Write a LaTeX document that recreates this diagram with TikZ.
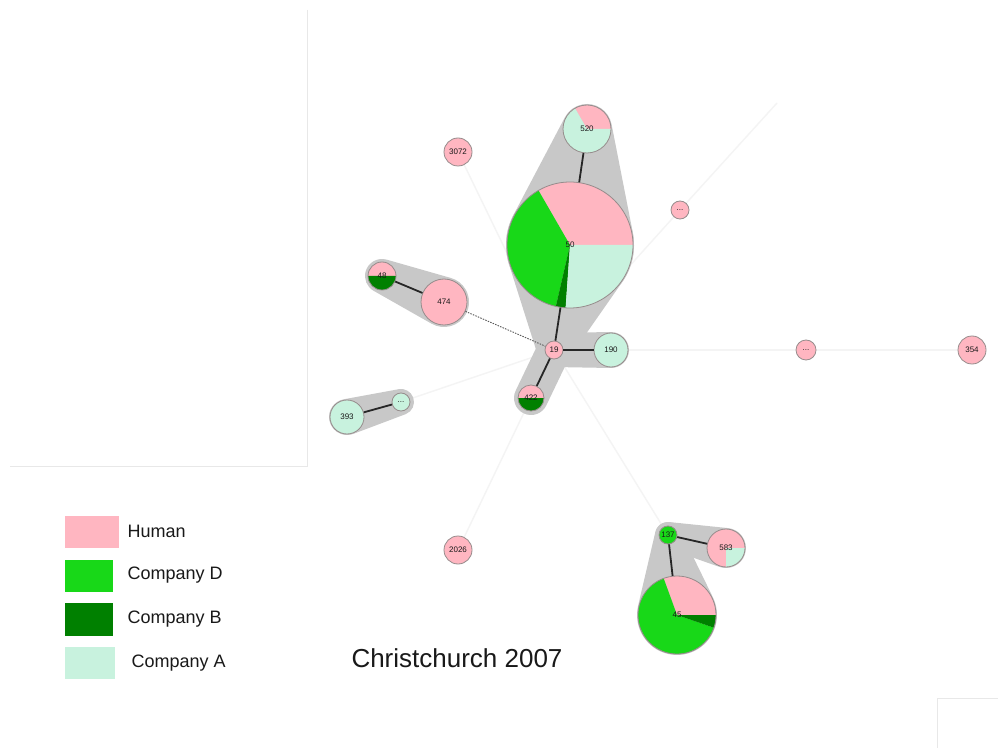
\documentclass[tikz,border=0pt]{standalone}
\usepackage{fontspec}
\setmainfont{Liberation Sans}
\usetikzlibrary{calc}
\pgfdeclarelayer{bg}
\pgfsetlayers{bg,main}
\definecolor{hpink}{RGB}{255,182,193}
\definecolor{cD}{RGB}{24,216,24}
\definecolor{cB}{RGB}{0,128,0}
\definecolor{cA}{RGB}{200,242,222}
\definecolor{hullc}{RGB}{200,200,200}
\definecolor{nborder}{RGB}{150,140,140}
\definecolor{faintc}{RGB}{244,244,244}
\definecolor{framec}{RGB}{232,232,232}
\newcommand\pieslice[5]{\fill[#5] ($(#1)+(#2:#4pt)$) arc[start angle=#2,end angle=#3,radius=#4pt] -- (#1) -- cycle;}
\newcommand\hullband[4]{\fill[hullc] let \p1=(#1), \p2=(#3),
  \n1={atan2(\y2-\y1,\x2-\x1)}, \n2={veclen(\x2-\x1,\y2-\y1)}, \n3={acos((#2-#4)/\n2)} in
  ($(\p1)+(\n1+\n3:#2pt)$) arc[start angle=\n1+\n3, end angle=\n1-\n3+360, radius=#2pt]
  -- ($(\p2)+(\n1-\n3:#4pt)$) arc[start angle=\n1-\n3, end angle=\n1+\n3, radius=#4pt] -- cycle;}
\begin{document}
\begin{tikzpicture}[x=1pt,y=1pt,
  nd/.style={circle, draw=nborder, line width=0.8pt, inner sep=0pt, font=\fontsize{8}{9}\selectfont, text=black!90},
  strong/.style={line width=1.8pt, draw=black!85},
  faint/.style={line width=1.4pt, draw=faintc},
  legbox/.style={rectangle, inner sep=0pt},
  legtext/.style={anchor=west, font=\fontsize{18}{20}\selectfont, text=black!90}]
\useasboundingbox (0,0) rectangle (998,748);
% centres
\coordinate (c520) at (587,619);
\coordinate (c50) at (570,503);
\coordinate (c19) at (554,398);
\coordinate (c190) at (611,398);
\coordinate (c474) at (444,446);
\coordinate (c48) at (382,472);
\coordinate (c422) at (531,350);
\coordinate (c393) at (347,331);
\coordinate (cd1) at (401,346);
\coordinate (c3072) at (458,596);
\coordinate (cd2) at (680,538);
\coordinate (cd3) at (806,398);
\coordinate (c354) at (972,398);
\coordinate (c2026) at (458,198);
\coordinate (c137) at (668,213);
\coordinate (c583) at (726,200);
\coordinate (c45) at (677,133);
\coordinate (free) at (777,645);
% frame lines
\draw[framec, line width=1pt] (307,738) -- (307,282) -- (10,282);
\draw[framec, line width=1pt] (937,0) -- (937,50) -- (998,50);
% pies
\pieslice{c50}{0}{120}{63}{hpink}
\pieslice{c50}{120}{257}{63}{cD}
\pieslice{c50}{257}{266}{63}{cB}
\pieslice{c50}{266}{360}{63}{cA}
\pieslice{c520}{0}{120}{24}{hpink}
\pieslice{c520}{120}{360}{24}{cA}
\pieslice{c48}{0}{180}{14}{hpink}
\pieslice{c48}{180}{360}{14}{cB}
\pieslice{c422}{0}{180}{13}{hpink}
\pieslice{c422}{180}{360}{13}{cB}
\pieslice{c583}{0}{270}{19}{hpink}
\pieslice{c583}{270}{360}{19}{cA}
\pieslice{c45}{0}{110}{39}{hpink}
\pieslice{c45}{110}{341}{39}{cD}
\pieslice{c45}{341}{360}{39}{cB}
% nodes
\node[nd, minimum size=126pt] (n50) at (c50) {50};
\node[nd, minimum size=48pt] (n520) at (c520) {520};
\node[nd, minimum size=18pt, fill=hpink] (n19) at (c19) {19};
\node[nd, minimum size=34pt, fill=cA] (n190) at (c190) {190};
\node[nd, minimum size=46pt, fill=hpink] (n474) at (c474) {474};
\node[nd, minimum size=28pt] (n48) at (c48) {48};
\node[nd, minimum size=26pt] (n422) at (c422) {422};
\node[nd, minimum size=34pt, fill=cA] (n393) at (c393) {393};
\node[nd, minimum size=18pt, fill=cA] (nd1) at (cd1) {...};
\node[nd, minimum size=28pt, fill=hpink] (n3072) at (c3072) {3072};
\node[nd, minimum size=18pt, fill=hpink] (nd2) at (cd2) {...};
\node[nd, minimum size=20pt, fill=hpink] (nd3) at (cd3) {...};
\node[nd, minimum size=28pt, fill=hpink] (n354) at (c354) {354};
\node[nd, minimum size=28pt, fill=hpink] (n2026) at (c2026) {2026};
\node[nd, minimum size=18pt, fill=cD] (n137) at (c137) {137};
\node[nd, minimum size=38pt] (n583) at (c583) {583};
\node[nd, minimum size=78pt] (n45) at (c45) {45};
% background: faint edges and hulls
\begin{pgfonlayer}{bg}
\fill[white] (0,0) rectangle (998,748);
\draw[faint] (n3072) -- (n19);
\draw[faint] (n19) -- (nd2);
\draw[faint] (nd2) -- (free);
\draw[faint] (n19) -- (nd3);
\draw[faint] (nd3) -- (n354);
\draw[faint] (n19) -- (nd1);
\draw[faint] (n422) -- (n2026);
\draw[faint] (n19) -- (n137);
\hullband{c520}{25}{c50}{64}
\hullband{c50}{64}{c19}{17}
\hullband{c19}{17}{c190}{18}
\hullband{c19}{17}{c422}{17}
\hullband{c48}{17}{c474}{25}
\hullband{c393}{18}{cd1}{13}
\hullband{c137}{13}{c583}{20}
\hullband{c137}{13}{c45}{40}
\end{pgfonlayer}
% strong edges
\draw[strong] (n520) -- (n50);
\draw[strong] (n50) -- (n19);
\draw[strong] (n19) -- (n190);
\draw[strong] (n19) -- (n422);
\draw[strong] (n48) -- (n474);
\draw[strong] (n393) -- (nd1);
\draw[strong] (n137) -- (n45);
\draw[strong] (n137) -- (n583);
\draw[line width=0.9pt, draw=black!65, dash pattern=on 1.5pt off 1.2pt] (n474) -- (n19);
% legend
\node[legbox, fill=hpink, minimum width=54pt, minimum height=32pt] (lh) at (92,216) {};
\node[legbox, fill=cD, minimum width=48pt, minimum height=32pt] (ld) at (89,172) {};
\node[legbox, fill=cB, minimum width=48pt, minimum height=33pt] (lb) at (89,128.5) {};
\node[legbox, fill=cA, minimum width=50pt, minimum height=32pt] (la) at (90,85) {};
\node[legtext] (th) at (124,217) {Human};
\node[legtext] (td) at (124,173) {Company D};
\node[legtext] (tb) at (124,129) {Company B};
\node[legtext] (ta) at (128,85) {Company A};
\node[font=\fontsize{26}{28}\selectfont, text=black!90] (title) at (457,90) {Christchurch 2007};
\end{tikzpicture}
\end{document}
